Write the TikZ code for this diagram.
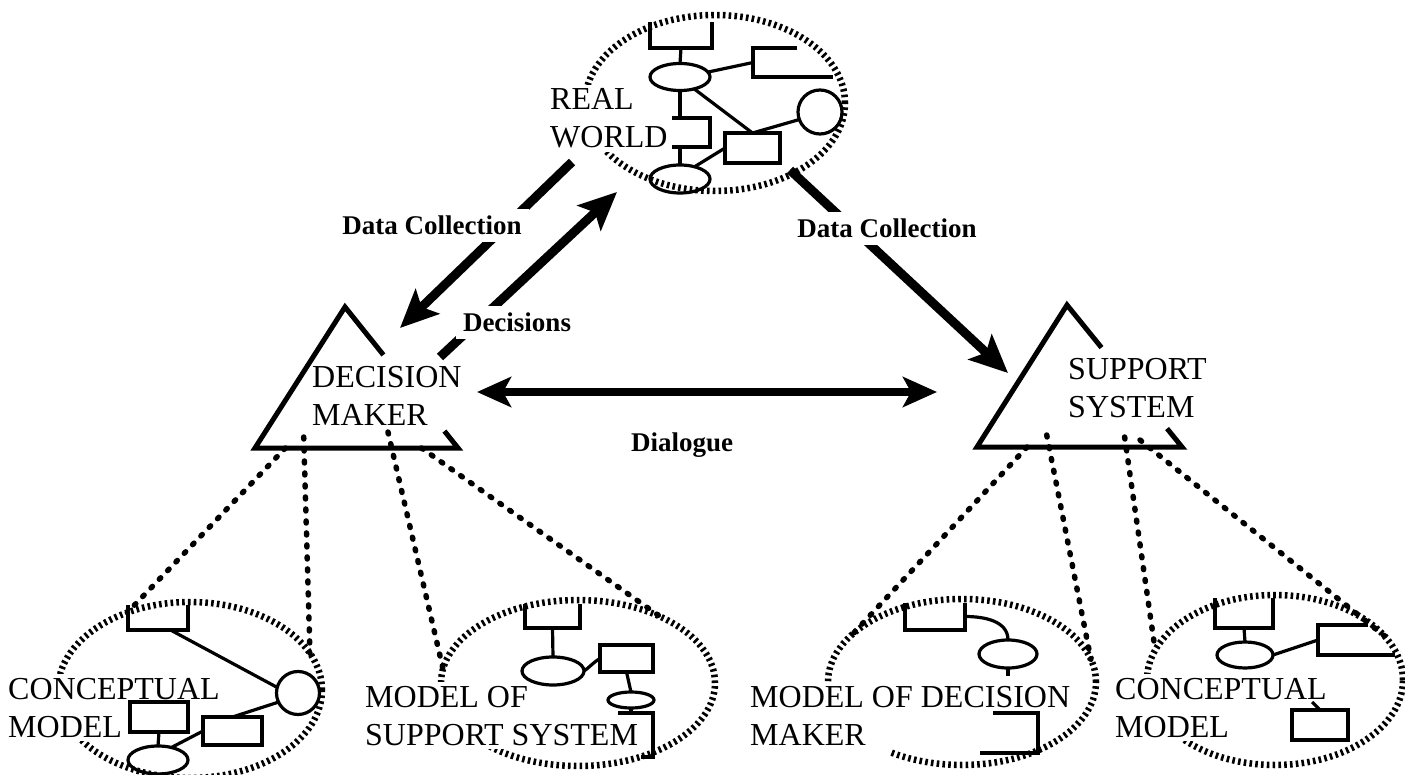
\documentclass[tikz,border=0pt]{standalone}
\usepackage{fontspec}
\setmainfont{Liberation Serif}
\usetikzlibrary{shapes.geometric,arrows.meta,calc}

\begin{document}
\begin{tikzpicture}[x=1pt,y=-1pt,
    hatch/.style={draw,line width=6.5pt,dash pattern=on 2.6pt off 3.2pt},
    world/.style={ellipse,hatch,inner sep=0pt,outer sep=0pt},
    title/.style={anchor=base west,align=left,inner sep=4pt,font=\fontsize{32}{38}\selectfont},
    cover/.style={title,fill=white,inner xsep=1pt},
    tri/.style={line width=5pt,line join=miter},
    sketch/.style={line width=3.2pt},
    frame/.style={rectangle,inner sep=0pt,outer sep=0pt},
    box/.style={frame,draw,sketch},
    blob/.style={ellipse,draw,sketch,inner sep=0pt,outer sep=0pt},
    ring/.style={circle,draw,sketch,inner sep=0pt,outer sep=0pt},
    spot/.style={line width=5.5pt,line cap=round,dash pattern=on 2pt off 10pt},
    flow/.style={line width=9pt,-{Stealth[length=38pt,width=34pt,inset=8pt]}},
    talk/.style={line width=8pt,{Stealth[length=34pt,width=30pt,inset=8pt]}-{Stealth[length=34pt,width=30pt,inset=8pt]}},
    tag/.style={anchor=base,fill=white,inner sep=7pt,font=\fontsize{27}{30}\selectfont\bfseries}
  ]
  \useasboundingbox (0,0) rectangle (1405,775);

  % outlines
  \node[world,minimum width=260pt,minimum height=176pt] (rw) at (715,103) {};
  \node[world,minimum width=264pt,minimum height=176pt] (cml) at (190,690) {};
  \node[world,minimum width=274pt,minimum height=166pt] (mss) at (578,683) {};
  \begin{scope}[even odd rule]
    \clip (0,0) rectangle (1405,775) (740,683) rectangle (890,775);
    \node[world,minimum width=268pt,minimum height=166pt] (mdm) at (962,682) {};
  \end{scope}
  \node[world,minimum width=256pt,minimum height=170pt] (cmr) at (1275,680) {};

  \coordinate (dm-l) at (255,448);
  \coordinate (dm-a) at (345,307);
  \coordinate (dm-r) at (458,448);
  \coordinate (ss-l) at (977,447);
  \coordinate (ss-a) at (1067,305);
  \coordinate (ss-r) at (1182,447);
  \draw[tri] ($(dm-a)!0.34!(dm-r)$) -- (dm-a) -- (dm-l) -- (dm-r) -- ($(dm-a)!0.88!(dm-r)$);
  \draw[tri] ($(ss-a)!0.30!(ss-r)$) -- (ss-a) -- (ss-l) -- (ss-r) -- ($(ss-a)!0.87!(ss-r)$);

  % names
  \node[cover] (rw-t) at (549,148) {REAL\\WORLD};
  \node[title] (dm-t) at (308,425) {DECISION\\MAKER};
  \node[title] (ss-t) at (1064,417) {SUPPORT\\SYSTEM};
  \node[cover] (cml-t) at (7,737) {CONCEPTUAL\\MODEL};
  \node[cover] (mss-t) at (364,745) {MODEL OF\\SUPPORT SYSTEM};
  \node[title] (mdm-t) at (746,745) {MODEL OF DECISION\\MAKER};
  \node[cover] (cmr-t) at (1114,737) {CONCEPTUAL\\MODEL};

  % real world
  \node[frame,minimum width=62pt,minimum height=26pt] (rw-b1) at (681,35) {};
  \node[blob,minimum width=60pt,minimum height=27pt] (rw-e1) at (680,77) {};
  \node[frame,minimum width=44pt,minimum height=29pt] (rw-b2) at (775,62.5) {};
  \node[ring,minimum size=44pt] (rw-c) at (820,112) {};
  \node[frame,minimum width=38pt,minimum height=29pt] (rw-b3) at (691,132.5) {};
  \node[box,minimum width=55pt,minimum height=30pt] (rw-b4) at (752.5,148) {};
  \node[blob,minimum width=60pt,minimum height=28pt] (rw-e2) at (680,179) {};
  \draw[sketch] (rw-b1.north west) |- (rw-b1.south east) -- (rw-b1.north east);
  \draw[sketch] (rw-b2.north east) -| (rw-b2.south west) -- ++(80,0);
  \draw[sketch] (rw-b3.north west) -| (rw-b3.south east) -- (rw-b3.south west);
  \draw[sketch] (rw-b1.south) -- (rw-e1.north);
  \draw[sketch] (rw-e1.10) -- (rw-b2.west);
  \draw[sketch] (rw-e1.-40) -- (rw-b4.north) -- (rw-c.200);
  \draw[sketch] (rw-e1.south) -- (rw-e1.south |- rw-b3.north);
  \draw[sketch] (rw-e1.south |- rw-b3.south) -- (rw-e2.north);
  \draw[sketch] (rw-e2.40) -- (rw-b4.west);

  % conceptual model, left
  \node[frame,minimum width=60pt,minimum height=25pt] (cml-b1) at (158,617.5) {};
  \node[ring,minimum size=43pt] (cml-c) at (298,693) {};
  \node[box,minimum width=58pt,minimum height=30pt] (cml-b2) at (159,717) {};
  \node[box,minimum width=59pt,minimum height=28pt] (cml-b3) at (232.5,731) {};
  \node[blob,minimum width=60pt,minimum height=28pt] (cml-e) at (158,760) {};
  \draw[sketch] (cml-b1.north west) |- (cml-b1.south east) -- (cml-b1.north east);
  \draw[sketch] (cml-b1.315) -- (cml-c.165);
  \draw[sketch] (cml-c.205) -- (cml-b3.north);
  \draw[sketch] (cml-b3.west) -- (cml-e.43);
  \draw[sketch] (cml-b2.south) -- (cml-e.north);

  % model of support system
  \node[frame,minimum width=55pt,minimum height=24pt] (mss-b1) at (552.5,616) {};
  \node[blob,minimum width=62pt,minimum height=28pt] (mss-e1) at (553,671) {};
  \node[box,minimum width=53pt,minimum height=27pt] (mss-b2) at (626.5,658.5) {};
  \node[blob,minimum width=46pt,minimum height=16pt] (mss-e2) at (631,700) {};
  \node[frame,minimum width=35pt,minimum height=44pt] (mss-b3) at (635.5,735) {};
  \draw[sketch] (mss-b1.north west) |- (mss-b1.south east) -- (mss-b1.north east);
  \draw[sketch] (mss-b3.north west) -| (mss-b3.south east) -- ++(-12,0);
  \draw[sketch] (mss-b1.south) -- (mss-e1.north);
  \draw[sketch] (mss-e1.east) to[out=35,in=210] (mss-b2.west);
  \draw[sketch] (mss-b2.south) -- (mss-e2.north);
  \draw[sketch] (mss-e2.south) -- (mss-e2.south |- mss-b3.north);

  % model of decision maker
  \node[frame,minimum width=60pt,minimum height=27pt] (mdm-b1) at (935,616.5) {};
  \node[blob,minimum width=58pt,minimum height=28pt] (mdm-e) at (1008,654) {};
  \node[frame,minimum width=45pt,minimum height=40pt] (mdm-b2) at (1015.5,733) {};
  \draw[sketch] (mdm-b1.north west) |- (mdm-b1.south east) -- (mdm-b1.north east);
  \draw[sketch] (mdm-b2.north west) -| (mdm-b2.south east) -- ++(-58,0);
  \draw[sketch] (mdm-b1.east) to[out=0,in=90] (mdm-e.north);
  \draw[sketch] (mdm-e.south) -- ++(0,8);

  % conceptual model, right
  \node[frame,minimum width=58pt,minimum height=30pt] (cmr-b1) at (1244,613) {};
  \node[blob,minimum width=56pt,minimum height=26pt] (cmr-e) at (1245,655) {};
  \node[frame,minimum width=50pt,minimum height=30pt] (cmr-b2) at (1343,640) {};
  \node[box,minimum width=56pt,minimum height=30pt] (cmr-b3) at (1320,725) {};
  \draw[sketch] (cmr-b1.north west) |- (cmr-b1.south east) -- (cmr-b1.north east);
  \draw[sketch] (cmr-b2.north east) -| (cmr-b2.south west) -- ++(77,0);
  \draw[sketch] (cmr-b1.south) -- (cmr-e.north);
  \draw[sketch] (cmr-e.east) -- (cmr-b2.west);
  \draw[sketch] (cmr-b3.north) -- ++(-8,-8);

  % dotted links
  \draw[spot] ($(dm-l)!0.15!(dm-r)$) -- (cml.129);
  \draw[spot] ($(dm-l)!0.24!(dm-r)+(0,-11)$) -- (cml.17);
  \draw[spot] ($(dm-l)!0.655!(dm-r)+(0,-16)$) -- (mss.174);
  \draw[spot] ($(dm-l)!0.82!(dm-r)$) -- (mss.39);
  \draw[spot] ($(ss-l)!0.244!(ss-r)$) -- (mdm.156);
  \draw[spot] ($(ss-l)!0.34!(ss-r)+(0,-12)$) -- (mdm.10);
  \draw[spot] ($(ss-l)!0.72!(ss-r)+(0,-10)$) -- (cmr.166);
  \draw[spot] ($(ss-l)!0.795!(ss-r)+(0,-7)$) -- (cmr.22);

  % arrows
  \draw[flow] ($(rw.center)+(-143,59)$) -- ($(dm-a)+(55,21)$);
  \draw[flow] ($(dm-a)+(95,50)$) -- ($(rw.center)+(-98,89)$);
  \draw[flow] ($(rw.center)+(75,67)$) -- ($(ss-a)+(-59,68)$);
  \draw[talk] ($(dm-a)+(132,85)$) -- ($(ss-a)+(-130,87)$);

  \node[tag] (dc-l) at (432,235) {Data Collection};
  \node[tag] (dec) at (517,332) {Decisions};
  \node[tag] (dc-r) at (887,238) {Data Collection};
  \node[tag] (dlg) at (682,451) {Dialogue};
\end{tikzpicture}
\end{document}
